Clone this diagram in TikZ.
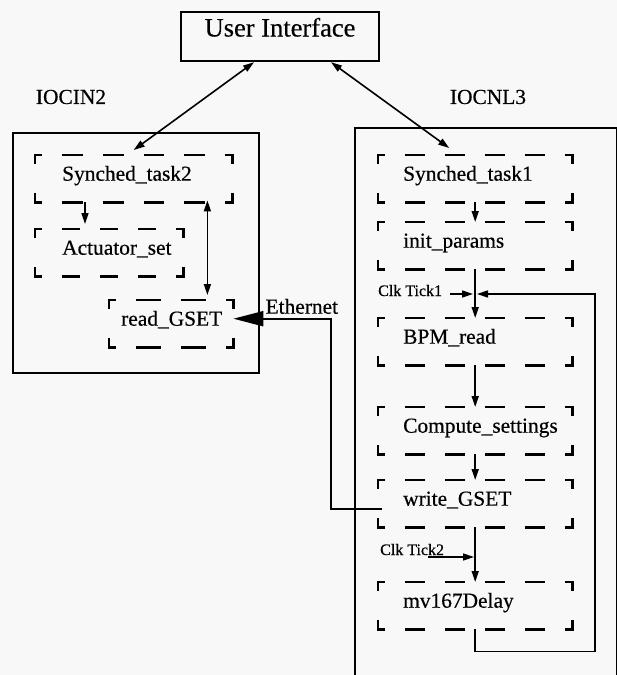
\documentclass[tikz,border=0pt]{standalone}
\usepackage{fontspec}
\setmainfont{Liberation Serif}[FakeBold=0.4]
\usetikzlibrary{arrows.meta,calc}

\newlength{\du}
\setlength{\du}{1pt}

\definecolor{papercolor}{rgb}{0.972549, 0.972549, 0.972549}
\definecolor{dialinecolor}{rgb}{0.000000, 0.000000, 0.000000}

\newcommand{\uifont}{\fontsize{26.5}{30}\selectfont}
\newcommand{\txtfont}{\fontsize{21.4}{24}\selectfont}
\newcommand{\clkfont}{\fontsize{16}{18}\selectfont}

\tikzset{
  solidbox/.style={draw=dialinecolor, line width=2.4pt, inner sep=0pt},
  task/.style={inner sep=0pt, minimum height=47\du},
  taskline/.style={draw=dialinecolor, line width=2.4pt, line cap=butt, line join=miter},
  txt/.style={font=\txtfont, inner sep=0pt, anchor=base west},
  clk/.style={font=\clkfont, inner sep=0pt, anchor=base west},
  arr/.style={draw=dialinecolor, line width=1.6pt, -{Triangle[length=11pt,width=7pt]}},
  biarr/.style={draw=dialinecolor, line width=1.6pt, {Triangle[length=11pt,width=7pt]}-{Triangle[length=11pt,width=7pt]}},
  netarr/.style={draw=dialinecolor, line width=2pt, -{Triangle[length=30pt,width=15pt]}},
}

% task frame: name, left, top, width, dashes
\newcommand{\tasknode}[5]{%
\node[task, minimum width=#4\du, anchor=north west] (#1) at (#2\du,#3\du) {};
\pgfmathsetmacro{\dashlen}{(#4-54-(#5-1)*20)/#5}
\draw[taskline] ($(#1.north west)+(0\du,9\du)$)--(#1.north west)--++(7\du,0\du);
\draw[taskline] ($(#1.north east)+(-7\du,0\du)$)--(#1.north east)--++(0\du,9\du);
\draw[taskline] ($(#1.south west)+(0\du,-9\du)$)--(#1.south west)--++(7\du,0\du);
\draw[taskline] ($(#1.south east)+(-7\du,0\du)$)--(#1.south east)--++(0\du,-9\du);
\draw[taskline, dash pattern=on \dashlen pt off 20pt] ($(#1.north west)+(27\du,0\du)$)--($(#1.north east)+(-27\du,0\du)$);
\draw[taskline, dash pattern=on \dashlen pt off 20pt] ($(#1.south west)+(27\du,0\du)$)--($(#1.south east)+(-27\du,0\du)$);
}

\begin{document}
\begin{tikzpicture}
\pgftransformxscale{1.000000}
\pgftransformyscale{-1.000000}
\fill[papercolor] (0\du,0\du) rectangle (617\du,675\du);
\useasboundingbox (0\du,0\du) rectangle (617\du,675\du);

% user interface
\node[solidbox, font=\uifont, minimum width=198\du, minimum height=49\du, text height=12pt, text depth=12pt] (ui) at (280\du,36.5\du) {User Interface};

% IOCIN2
\node[font=\txtfont, inner sep=0pt] (ioc2) at (71\du,97\du) {IOCIN2};
\node[solidbox, minimum width=246\du, minimum height=240\du, anchor=north west] (ioc2box) at (12\du,132\du) {};
\tasknode{st2}{35}{155}{197}{4}
\tasknode{act}{35}{229}{148}{3}
\tasknode{rd}{109}{300}{124}{2}
\node[txt] (st2-t) at ($(st2.west)+(27\du,2\du)$) {Synched\_task2};
\node[txt] (act-t) at ($(act.west)+(27\du,2\du)$) {Actuator\_set};
\node[txt] (rd-t) at ($(rd.west)+(12\du,2\du)$) {read\_GSET};

% IOCNL3
\node[font=\txtfont, inner sep=0pt] (ioc3) at (488\du,97\du) {IOCNL3};
\node[solidbox, minimum width=262\du, minimum height=573\du, anchor=north west] (ioc3box) at (354\du,127\du) {};
\tasknode{st1}{378}{155}{194}{4}
\tasknode{ip}{378}{222}{194}{4}
\tasknode{bpm}{378}{318}{194}{4}
\tasknode{cs}{378}{407}{194}{4}
\tasknode{wr}{378}{480}{194}{4}
\tasknode{mv}{378}{582}{194}{4}
\node[txt] (st1-t) at ($(st1.west)+(25\du,2\du)$) {Synched\_task1};
\node[txt] (ip-t) at ($(ip.west)+(25\du,2\du)$) {init\_params};
\node[txt] (bpm-t) at ($(bpm.west)+(25\du,2\du)$) {BPM\_read};
\node[txt] (cs-t) at ($(cs.west)+(25\du,2\du)$) {Compute\_settings};
\node[txt] (wr-t) at ($(wr.west)+(25\du,2\du)$) {write\_GSET};
\node[txt] (mv-t) at ($(mv.west)+(25\du,2\du)$) {mv167Delay};

% clock ticks
\node[clk] (ck1) at (378\du,296\du) {Clk Tick1};
\node[clk] (ck2) at (380\du,555\du) {Clk Tick2};
\coordinate (tick1) at (475\du,294\du);
\coordinate (tick2) at (475\du,557\du);

% ethernet
\node[txt] (eth) at ($(rd.east)+(32\du,-10\du)$) {Ethernet};

% connectors
\draw[biarr] ($(ui.south)+(-26\du,0\du)$) -- ($(st2.north)+(0\du,-5\du)$);
\draw[biarr] ($(ui.south)+(51\du,0\du)$) -- ($(st1.north)+(-26\du,-7\du)$);
\draw[arr] ($(st2.south west)+(50\du,0\du)$) -- ($(act.north west)+(50\du,-5\du)$);
\draw[biarr] ($(rd.north east)+(-26\du,-5\du)$) -- ($(st2.south east)+(-25\du,-2\du)$);
\draw[netarr] ($(wr.west)+(4\du,5\du)$) -| ($(rd.east)+(98\du,-5\du)$) -- ($(rd.east)+(0\du,-5\du)$);
\draw[arr] (st1.south) -- (ip.north);
\draw[arr] (ip.south) -- (bpm.north);
\draw[arr] (bpm.south) -- (cs.north);
\draw[arr] (cs.south) -- (wr.north);
\draw[arr] (wr.south) -- (mv.north);
\draw[arr, shorten >=2pt] ($(ck1.base east)+(8\du,-2\du)$) -- (tick1);
\draw[arr, shorten >=2pt] (mv.south) -- ++(0\du,22\du) -| ($(tick1)+(120\du,0\du)$) -- (tick1);
\draw[arr, shorten >=1pt] ($(ck2.base west)+(48\du,2\du)$) -- (tick2);
\end{tikzpicture}
\end{document}
